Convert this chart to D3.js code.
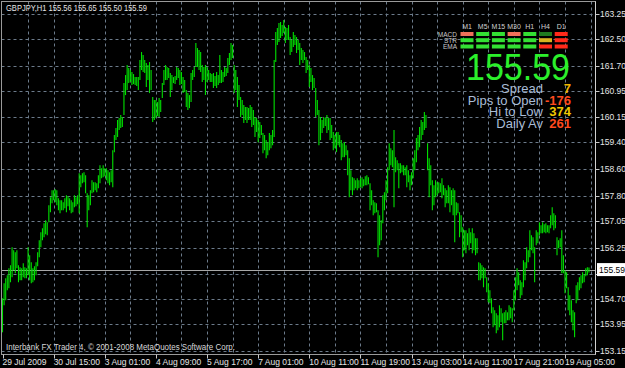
<!DOCTYPE html>
<html>
<head>
<meta charset="utf-8">
<script src="https://cdn.jsdelivr.net/npm/d3@7"></script>
<style>
  body { margin: 0; background: #000; overflow: hidden; }
  svg { display: block; }
  text { font-family: "Liberation Sans", Arial, sans-serif; }
</style>
</head>
<body>
<div id="chart"></div>
<script>
// GBPJPY H1 bars, 29 Jul 2009 -> 19 Aug 2009 (high / low of each hourly bar)
const symbol = "GBPJPY,H1";
const lastBar = [155.56, 155.65, 155.50, 155.59]; // open high low close

const highs = [
  154.73,155.18,155.33,155.42,155.63,155.72,156.26,156.17,156.11,156.17,
  155.72,155.66,155.63,155.78,155.66,155.63,156.26,156.02,155.81,155.63,
  155.69,155.81,156.11,156.47,156.71,156.83,156.98,157.07,157.01,157.52,
  157.76,157.97,157.97,158.00,157.97,157.73,157.67,157.67,157.61,157.73,
  157.82,157.79,157.73,157.67,157.61,157.82,157.76,157.82,158.48,158.42,
  158.48,158.51,158.42,157.88,157.82,157.97,158.27,158.21,158.21,158.18,
  158.42,158.72,158.63,158.72,158.63,158.63,158.57,158.51,158.57,159.17,
  159.62,159.83,160.07,160.13,160.22,160.16,161.18,161.42,161.72,161.63,
  161.57,161.51,161.45,161.36,161.36,161.36,161.87,162.11,162.02,161.87,
  161.78,161.72,161.81,161.57,160.76,160.67,160.67,160.61,160.73,160.67,
  161.18,161.57,161.72,161.66,161.63,161.48,161.42,161.36,161.39,161.66,
  161.63,161.57,161.51,161.36,161.27,160.97,160.88,160.82,161.48,161.57,
  161.66,162.38,162.23,162.17,162.11,161.72,161.66,161.72,161.66,161.57,
  161.48,161.45,161.48,161.39,161.51,161.42,162.02,161.57,161.51,161.66,
  161.63,161.93,162.08,162.38,162.32,161.72,161.57,161.36,161.12,160.76,
  160.67,160.52,160.46,160.46,160.43,160.52,160.46,160.37,160.16,160.13,
  160.07,160.01,159.92,159.68,159.62,159.47,159.41,159.68,159.62,159.77,
  161.87,162.71,162.83,162.98,163.01,162.92,163.07,162.86,162.83,162.92,
  162.56,162.47,162.71,162.62,162.56,162.47,162.38,162.23,162.17,162.11,
  161.96,161.87,161.72,161.63,161.42,161.33,161.03,160.67,160.37,160.16,
  160.07,160.16,160.13,160.22,160.13,160.13,159.92,159.71,159.62,159.71,
  159.71,159.62,159.47,159.38,159.41,159.32,159.17,158.93,158.57,158.36,
  158.33,158.27,158.33,158.27,158.33,158.36,158.30,158.39,158.42,158.36,
  158.18,157.97,157.67,157.61,157.58,157.37,157.22,157.07,157.82,157.91,
  158.27,158.66,159.38,159.23,159.17,159.77,158.96,158.87,158.78,158.78,
  158.72,158.72,158.66,158.72,158.57,158.42,158.51,158.93,159.17,159.53,
  159.62,159.86,160.07,160.01,160.31,160.22,159.38,158.93,158.72,158.27,
  158.12,158.27,158.21,158.21,158.18,158.33,158.12,158.03,157.97,158.12,
  158.06,157.97,158.03,157.97,157.61,157.58,157.31,157.22,156.86,156.77,
  156.77,156.68,156.83,156.71,156.83,156.68,156.53,156.53,155.81,155.78,
  155.72,155.66,155.63,155.36,155.18,154.97,154.73,154.46,154.37,154.28,
  154.22,154.52,154.43,154.28,154.31,154.37,154.31,154.52,154.46,154.43,
  154.97,155.36,155.63,155.51,155.27,155.21,155.87,155.81,156.26,156.17,
  156.77,156.62,156.56,156.26,156.77,156.71,157.01,156.92,157.01,156.95,
  156.98,156.92,156.92,157.22,157.46,157.28,157.22,156.56,156.47,156.53,
  156.77,156.02,155.57,155.51,155.06,154.82,154.67,154.37,154.31,155.12,
  155.21,155.36,155.42,155.51,155.45,155.63,155.66,155.65
];

const lows = [
  153.71,154.52,154.67,154.97,155.03,155.21,155.36,155.57,155.48,155.63,
  155.21,155.27,155.27,155.36,155.33,155.33,155.42,155.27,155.18,155.21,
  155.27,155.42,155.69,155.96,156.26,156.47,156.56,156.65,156.62,157.01,
  157.31,157.58,157.67,157.61,157.52,157.37,157.28,157.37,157.37,157.43,
  157.31,157.49,157.37,157.28,157.31,157.46,157.49,157.55,157.28,158.06,
  158.18,158.21,157.88,156.86,157.37,157.52,157.88,157.91,157.97,157.91,
  158.03,158.18,158.33,158.36,158.39,158.27,158.18,158.12,158.21,158.06,
  159.11,159.47,159.56,159.77,159.83,159.86,160.22,160.82,160.97,161.18,
  161.21,161.12,161.15,161.12,161.09,160.97,161.27,161.57,161.51,161.48,
  161.06,161.27,160.88,160.97,160.01,160.07,160.13,160.19,160.16,160.31,
  160.73,161.12,161.27,161.27,161.33,160.76,160.97,161.18,161.15,161.27,
  161.33,161.12,161.15,160.88,160.91,160.46,160.37,160.43,160.61,161.27,
  161.36,161.66,161.66,161.57,161.51,161.21,161.27,160.82,161.21,161.27,
  161.21,161.21,161.03,161.09,161.03,161.12,161.18,161.18,161.21,161.36,
  161.39,161.48,161.72,161.87,161.93,160.88,160.97,160.46,160.67,160.16,
  160.22,159.98,160.07,159.98,160.07,160.07,159.86,159.92,159.56,159.71,
  159.41,159.53,159.62,159.08,159.17,158.93,159.02,159.17,159.23,159.32,
  159.56,161.81,162.32,162.41,162.53,162.59,162.68,162.38,162.47,162.47,
  162.02,162.11,162.26,162.32,162.08,162.17,161.72,161.87,161.78,161.87,
  161.48,161.57,161.06,161.21,160.97,161.03,160.16,160.22,159.32,159.47,
  159.68,159.83,159.89,159.68,159.77,159.47,159.53,159.17,159.23,159.11,
  159.32,159.26,158.87,158.96,158.96,159.02,158.42,157.76,157.97,157.82,
  157.97,158.03,157.97,158.03,158.06,158.03,158.09,158.12,158.12,158.15,
  157.37,157.52,157.22,157.28,157.31,155.96,156.32,156.47,156.98,157.37,
  157.67,157.88,158.57,158.72,158.66,157.46,158.51,158.57,158.03,158.48,
  158.51,158.42,158.42,158.06,158.21,157.97,158.12,158.33,158.57,158.81,
  159.17,159.26,159.47,159.62,159.77,159.83,158.57,157.76,158.12,157.37,
  157.52,157.76,157.82,157.88,157.91,157.73,157.82,157.46,157.58,157.58,
  157.31,157.52,157.22,156.41,157.22,157.28,156.56,156.71,155.96,156.17,
  156.08,156.32,156.17,156.38,156.08,156.17,156.02,156.08,155.27,155.27,
  155.33,155.06,155.33,154.91,154.61,154.58,154.28,153.86,153.92,153.68,
  153.77,153.86,154.01,153.47,153.98,153.98,154.07,154.07,154.13,154.01,
  154.37,154.67,154.97,155.12,154.73,154.82,155.06,155.27,155.63,155.81,
  155.96,156.17,156.08,155.21,156.32,156.38,156.62,156.68,156.68,156.71,
  156.68,156.71,156.68,156.83,156.92,156.77,156.83,156.02,156.23,156.26,
  155.48,155.48,154.88,155.03,154.37,154.22,154.01,153.77,153.56,154.58,
  154.67,154.97,155.03,155.18,155.21,155.39,155.42,155.50
];

// grid levels; 155.45 sits under the bid label so it gets no text
const priceTicks = [163.25,162.50,161.70,160.95,160.15,159.40,158.60,157.80,157.05,156.25,155.45,154.70,153.95,153.15];
const hiddenTick = 155.45;
const timeLabels = ["29 Jul 2009","30 Jul 15:00","3 Aug 01:00","4 Aug 09:00","5 Aug 17:00","7 Aug 01:00",
                    "10 Aug 11:00","11 Aug 19:00","13 Aug 03:00","14 Aug 11:00","17 Aug 21:00","19 Aug 05:00"];
const barsPerLabel = 32;
const barsPerGrid = 16;

// signal panel (top right)
const timeframes = ["M1","M5","M15","M30","H1","H4","D1"];
const signalRows = ["MACD","STR","EMA"];
const signals = [
  ["weakDown","up","up","weakDown","up","weakUp","down"],
  ["up","up","up","up","up","flat","down"],
  ["up","up","up","up","up","down","down"]
];
const statLabels = ["Spread","Pips to Open","Hi to Low","Daily Av"];
const statValues = ["7","-176","374","261"];

const signalColor = {up:"#33e033", weakUp:"#1f7a1f", flat:"#d8b420", weakDown:"#f0705a", down:"#ff2a1a"};
const statColor = ["#f0b400","#ff4a1e","#f0c800","#ff4a1e"];

const width = 625, height = 368;
const plot = {left: 1.5, right: 595.5, top: 1.5, bottom: 354.5};

const svg = d3.select("#chart").append("svg")
    .attr("width", width)
    .attr("height", height)
    .style("background", "#000");

const x = d3.scaleLinear()
    .domain([0, highs.length - 1])
    .range([2.5, 2.5 + (highs.length - 1) * 1.598]);

const y = d3.scaleLinear()
    .domain([153.15, 163.25])
    .range([351, 14]);

// grid
const gridCol = "#6c7b8b";
const vGrid = d3.range(barsPerGrid, highs.length + 1, barsPerGrid);
svg.append("g").selectAll("line").data(vGrid).enter().append("line")
    .attr("x1", d => Math.round(x(d)) + 0.5).attr("x2", d => Math.round(x(d)) + 0.5)
    .attr("y1", plot.top).attr("y2", plot.bottom)
    .attr("stroke", gridCol).attr("stroke-dasharray", "3,3");

svg.append("g").selectAll("line").data(priceTicks).enter().append("line")
    .attr("x1", plot.left).attr("x2", plot.right)
    .attr("y1", d => Math.round(y(d)) + 0.5).attr("y2", d => Math.round(y(d)) + 0.5)
    .attr("stroke", gridCol).attr("stroke-dasharray", "3,3");

// bid line
const bid = lastBar[3];
svg.append("line")
    .attr("x1", plot.left).attr("x2", plot.right)
    .attr("y1", Math.round(y(bid)) + 0.5).attr("y2", Math.round(y(bid)) + 0.5)
    .attr("stroke", "#a8a8a8");

// bars
svg.append("g").selectAll("line").data(highs).enter().append("line")
    .attr("x1", (d, i) => x(i)).attr("x2", (d, i) => x(i))
    .attr("y1", d => y(d))
    .attr("y2", (d, i) => y(lows[i]))
    .attr("stroke", "#00e000")
    .attr("stroke-width", 1.1);

// frame
svg.append("rect")
    .attr("x", plot.left).attr("y", plot.top)
    .attr("width", plot.right - plot.left).attr("height", plot.bottom - plot.top)
    .attr("fill", "none").attr("stroke", "#9a9a9a");
svg.append("line")
    .attr("x1", plot.right).attr("x2", plot.right)
    .attr("y1", plot.top).attr("y2", plot.bottom)
    .attr("stroke", "#d0d0d0");

// price axis
const yAxis = svg.append("g");
yAxis.selectAll("line").data(priceTicks).enter().append("line")
    .attr("x1", plot.right).attr("x2", plot.right + 4)
    .attr("y1", d => Math.round(y(d)) + 0.5).attr("y2", d => Math.round(y(d)) + 0.5)
    .attr("stroke", "#c8c8c8");
yAxis.selectAll("text").data(priceTicks.filter(d => d !== hiddenTick)).enter().append("text")
    .attr("x", 600).attr("y", d => y(d) + 3)
    .attr("fill", "#e6e6e6").attr("font-size", "8.5px")
    .text(d => d.toFixed(2));

// bid label
svg.append("rect")
    .attr("x", 597).attr("y", y(bid) - 6.5)
    .attr("width", 28).attr("height", 13)
    .attr("fill", "#ffffff");
svg.append("text")
    .attr("x", 599).attr("y", y(bid) + 3)
    .attr("fill", "#000").attr("font-size", "8.5px")
    .text(bid.toFixed(2));

// time axis
const xAxis = svg.append("g");
xAxis.selectAll("line").data(timeLabels).enter().append("line")
    .attr("x1", (d, i) => Math.round(x(i * barsPerLabel)) + 0.5)
    .attr("x2", (d, i) => Math.round(x(i * barsPerLabel)) + 0.5)
    .attr("y1", plot.bottom).attr("y2", plot.bottom + 4)
    .attr("stroke", "#c8c8c8");
xAxis.selectAll("text").data(timeLabels).enter().append("text")
    .attr("x", (d, i) => x(i * barsPerLabel))
    .attr("y", 365)
    .attr("fill", "#e6e6e6").attr("font-size", "8.5px")
    .text(d => d);

// header and copyright
svg.append("text")
    .attr("x", 6).attr("y", 11)
    .attr("fill", "#e6e6e6").attr("font-size", "8.5px")
    .attr("textLength", 141).attr("lengthAdjust", "spacingAndGlyphs")
    .text(symbol + "  " + lastBar.map(v => v.toFixed(2)).join(" "));

svg.append("text")
    .attr("x", 6).attr("y", 350)
    .attr("fill", "#d8d8d8").attr("font-size", "8.5px")
    .attr("textLength", 229).attr("lengthAdjust", "spacingAndGlyphs")
    .text("Interbank FX Trader 4, \u00a9 2001-2008 MetaQuotes Software Corp.");

// signal panel
const panel = svg.append("g");
const colX = i => 467 + i * 15.7;
const rowY = [34, 40.2, 46.5];

panel.selectAll(".tf").data(timeframes).enter().append("text")
    .attr("x", (d, i) => colX(i)).attr("y", 29)
    .attr("text-anchor", "middle")
    .attr("fill", "#d0d0d0").attr("font-size", "7px")
    .text(d => d);

panel.selectAll(".row").data(signalRows).enter().append("text")
    .attr("x", 457).attr("y", (d, i) => rowY[i] + 2.5)
    .attr("text-anchor", "end")
    .attr("fill", "#c8c8c8").attr("font-size", "6.5px")
    .text(d => d);

signals.forEach((row, r) => {
    panel.selectAll(".cell" + r).data(row).enter().append("rect")
        .attr("x", (d, i) => colX(i) - 6.5)
        .attr("y", rowY[r] - 2)
        .attr("width", 13).attr("height", 4)
        .attr("fill", d => signalColor[d]);
});

// big price
panel.append("text")
    .attr("x", 466).attr("y", 80)
    .attr("fill", "#2bf02b").attr("font-size", "37px")
    .attr("textLength", 104).attr("lengthAdjust", "spacingAndGlyphs")
    .text(bid.toFixed(2));

const statY = [93, 104.5, 116, 127.5];
panel.selectAll(".slabel").data(statLabels).enter().append("text")
    .attr("x", 543).attr("y", (d, i) => statY[i])
    .attr("text-anchor", "end")
    .attr("fill", "#a9bcd6").attr("font-size", "13px")
    .text(d => d);
panel.selectAll(".sval").data(statValues).enter().append("text")
    .attr("x", 571).attr("y", (d, i) => statY[i])
    .attr("text-anchor", "end")
    .attr("fill", (d, i) => statColor[i]).attr("font-size", "13px").attr("font-weight", "bold")
    .text(d => d);
</script>
</body>
</html>
